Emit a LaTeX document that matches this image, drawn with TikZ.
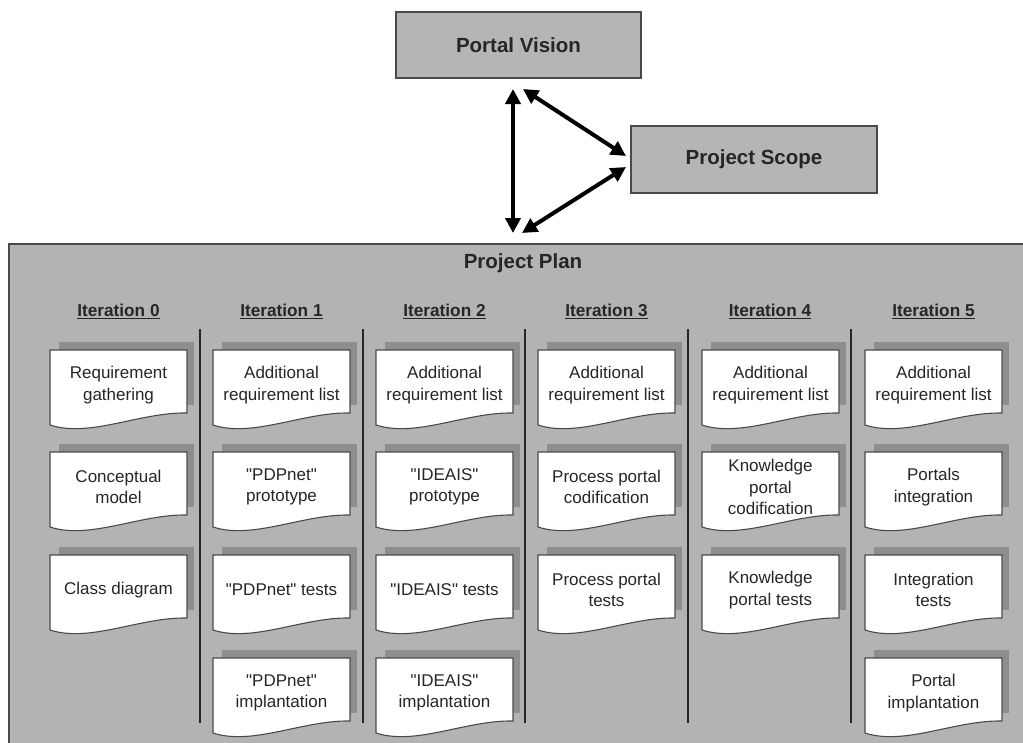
\documentclass[tikz,border=0pt]{standalone}
\usepackage{fontspec}
\setmainfont{Liberation Sans}[Ligatures=TeXOff]
\usetikzlibrary{arrows.meta}
\definecolor{plangray}{HTML}{B3B3B3}
\definecolor{boxgray}{HTML}{B5B5B5}
\definecolor{shadowgray}{HTML}{8E8E8E}
\definecolor{edgegray}{HTML}{4A4A4A}
\definecolor{txtgray}{HTML}{262626}
\newcommand\docnote[4]{%
  \begin{scope}[shift={(#2,#3)}]
    \fill[shadowgray] (9,-8) rectangle (144,55);
    \draw[notebox] (0,0) -- (137,0) -- (137,63) .. controls (90,62) and (40,88) .. (0,75) -- cycle;
    \node[notetext] (#1) at (68.5,35) {#4};
  \end{scope}}
\begin{document}
\begin{tikzpicture}[x=1pt,y=-1pt,
  topbox/.style={draw=edgegray, line width=1.2pt, fill=boxgray, inner sep=0pt},
  titletext/.style={font=\fontsize{20.5}{24}\selectfont\bfseries, text=txtgray},
  headtext/.style={font=\fontsize{17.2}{21}\selectfont\bfseries, text=txtgray},
  notebox/.style={draw=edgegray, line width=1.1pt, fill=white},
  notetext/.style={font=\fontsize{17}{21.5}\selectfont, text=txtgray, align=center, inner sep=0pt},
  bigarrow/.style={line width=4pt, {Triangle[length=15pt,width=15pt]}-{Triangle[length=15pt,width=15pt]}},
  sepline/.style={line width=2pt, draw=black!85}]
\useasboundingbox (0,0) rectangle (1023,742);
\fill[white] (0,0) rectangle (1023,742);
% top boxes
\node[topbox, minimum width=245pt, minimum height=66pt] (pv) at (518.5,45) {};
\node[titletext] (pvt) at (518.5,45) {Portal Vision};
\node[topbox, minimum width=246pt, minimum height=67pt] (ps) at (754,159.5) {};
\node[titletext] (pst) at (754,159.5) {Project Scope};
% arrow ends
\coordinate (v1) at (513,89);
\coordinate (v2) at (513,233);
\coordinate (d1) at (523,89);
\coordinate (d2) at (626,156);
\coordinate (e1) at (626,167);
\coordinate (e2) at (522,233);
\draw[bigarrow] (v1) -- (v2);
\draw[bigarrow] (d1) -- (d2);
\draw[bigarrow] (e1) -- (e2);
% plan area
\draw[draw=edgegray, line width=1.2pt, fill=plangray] (9,244) rectangle (1030,750);
\node[titletext] (pp) at (523,263) {Project Plan};
% headers
\node[headtext] (h0) at (118.5,311) {\underline{Iteration 0}};
\node[headtext] (h1) at (281.5,311) {\underline{Iteration 1}};
\node[headtext] (h2) at (444.5,311) {\underline{Iteration 2}};
\node[headtext] (h3) at (606.5,311) {\underline{Iteration 3}};
\node[headtext] (h4) at (770,311) {\underline{Iteration 4}};
\node[headtext] (h5) at (933.5,311) {\underline{Iteration 5}};
% separators
\foreach \sx in {200,363,525,688,851} \draw[sepline] (\sx,329) -- (\sx,723);
% column 0
\docnote{n01}{50}{350}{Requirement\\gathering}
\docnote{n02}{50}{452}{Conceptual\\model}
\docnote{n03}{50}{555}{Class diagram}
% column 1
\docnote{n11}{213}{350}{Additional\\requirement list}
\docnote{n12}{213}{452}{"PDPnet"\\prototype}
\docnote{n13}{213}{555}{"PDPnet" tests}
\docnote{n14}{213}{658}{"PDPnet"\\implantation}
% column 2
\docnote{n21}{376}{350}{Additional\\requirement list}
\docnote{n22}{376}{452}{"IDEAIS"\\prototype}
\docnote{n23}{376}{555}{"IDEAIS" tests}
\docnote{n24}{376}{658}{"IDEAIS"\\implantation}
% column 3
\docnote{n31}{538}{350}{Additional\\requirement list}
\docnote{n32}{538}{452}{Process portal\\codification}
\docnote{n33}{538}{555}{Process portal\\tests}
% column 4
\docnote{n41}{702}{350}{Additional\\requirement list}
\docnote{n42}{702}{452}{Knowledge\\portal\\codification}
\docnote{n43}{702}{555}{Knowledge\\portal tests}
% column 5
\docnote{n51}{865}{350}{Additional\\requirement list}
\docnote{n52}{865}{452}{Portals\\integration}
\docnote{n53}{865}{555}{Integration\\tests}
\docnote{n54}{865}{658}{Portal\\implantation}
\end{tikzpicture}
\end{document}
